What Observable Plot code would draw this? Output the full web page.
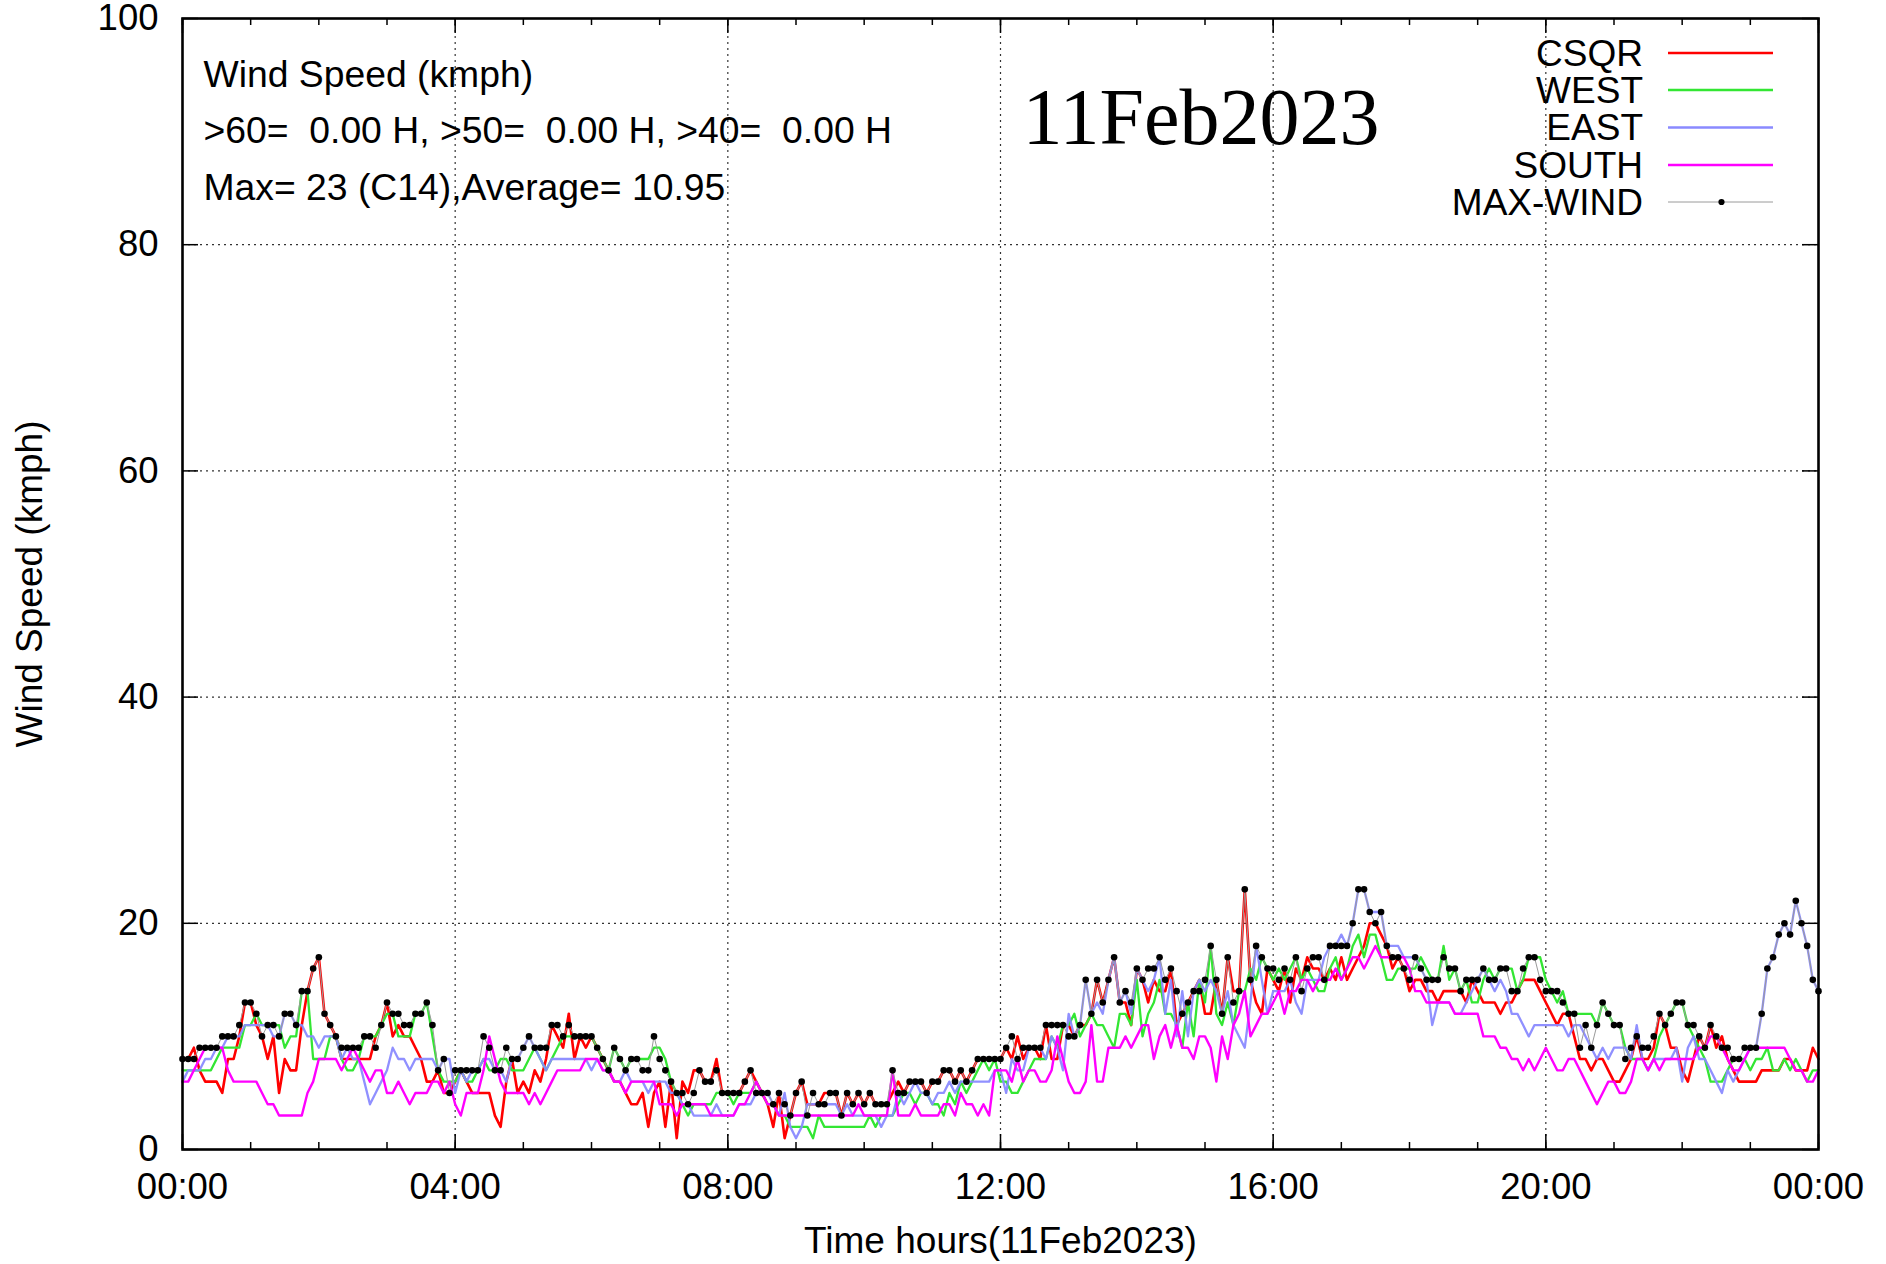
<!DOCTYPE html>
<html>
<head>
<meta charset="utf-8">
<script src="https://cdn.jsdelivr.net/npm/d3@7"></script>
<script src="https://cdn.jsdelivr.net/npm/@observablehq/plot@0.6"></script>
<style>
html, body { margin: 0; padding: 0; background: #ffffff; overflow: hidden; }
svg text { white-space: pre; }
</style>
</head>
<body>
<div id="chart"></div>
<script>
// ---- data (kmph, one reading every 5 minutes from 00:00 to 24:00) ----
const stepMinutes = 5;

const csqr = [
  8,8,9,7,6,6,6,5,8,8,10,13,13,11,10,8,10,5,8,7,7,11,14,16,17,12,11,10,8,8,8,8,8,8,10,11,13,
  10,11,10,10,9,8,6,6,7,5,5,6,7,6,5,5,5,5,3,2,6,8,5,6,5,7,6,8,11,10,9,12,8,10,9,10,
  9,8,7,6,6,5,4,4,5,2,5,6,2,6,1,6,5,7,7,6,6,8,5,5,5,5,6,7,6,5,4,2,5,1,3,5,
  6,4,4,4,5,5,5,3,5,4,5,4,5,4,4,4,5,6,5,6,6,6,5,6,6,7,7,6,7,6,7,8,8,8,8,8,
  9,8,10,8,9,9,8,11,8,8,11,11,10,11,11,12,15,13,15,17,13,13,11,16,15,13,15,14,14,16,11,12,13,14,15,12,
  12,15,12,17,14,14,23,15,13,12,16,15,14,16,13,16,15,17,16,16,15,16,15,17,15,16,17,18,20,20,19,18,16,17,16,14,
  15,15,14,14,13,14,14,14,14,13,15,14,13,13,13,12,13,13,14,15,15,15,14,13,12,11,12,12,10,8,8,7,8,8,7,6,
  6,7,8,10,8,8,9,12,11,9,9,7,6,8,10,9,11,9,10,8,7,6,6,6,6,7,7,7,7,8,8,7,7,7,9,8
];

const west = [
  7,7,7,7,7,7,8,9,9,9,9,11,11,12,11,11,11,11,9,10,10,14,14,8,8,8,10,10,8,7,7,8,10,10,10,11,12,
  12,10,10,10,12,12,13,10,7,6,6,6,7,6,6,7,8,7,7,8,8,7,7,7,8,9,8,7,8,9,10,10,10,10,10,10,
  9,8,7,9,8,7,8,8,8,8,9,9,8,6,5,4,3,4,4,4,4,5,5,5,4,5,5,5,6,5,4,4,3,3,2,2,
  2,2,1,3,2,2,2,2,2,2,2,2,3,2,3,3,3,4,5,5,4,5,5,4,4,3,5,4,6,5,6,7,8,7,8,6,
  6,5,5,6,7,8,8,8,10,9,11,11,12,10,11,12,11,11,10,9,12,12,11,15,10,12,13,15,12,12,11,9,13,10,15,13,
  18,12,11,13,11,14,14,16,15,17,16,15,16,15,16,17,15,16,15,14,14,16,17,15,16,18,19,17,19,19,17,15,15,16,16,16,
  16,17,16,15,15,18,15,16,14,15,13,13,15,16,15,16,16,16,14,15,17,17,17,15,14,13,14,12,12,12,12,12,11,13,12,11,
  11,9,8,8,8,7,8,10,11,12,13,13,11,10,9,8,6,6,6,7,8,8,8,7,8,8,9,7,7,8,7,8,7,6,7,7
];

const east = [
  6,7,7,7,8,8,9,9,10,10,10,11,11,11,11,11,10,10,12,12,11,11,10,10,9,10,10,10,8,9,8,8,6,4,5,6,7,
  9,8,8,7,8,8,8,8,7,8,8,5,7,6,7,7,8,8,7,7,6,8,8,9,10,9,8,7,8,8,8,8,8,8,8,7,
  8,7,7,6,6,7,6,6,6,5,6,6,6,5,5,4,4,3,3,3,3,4,3,3,3,4,4,4,5,5,5,4,3,5,2,1,
  2,4,4,4,4,4,4,3,4,3,3,3,3,3,2,3,3,5,4,5,6,5,5,4,5,5,6,5,6,6,6,6,6,6,7,7,
  5,8,7,7,9,9,9,8,10,9,7,12,10,11,15,12,13,12,15,17,13,14,12,16,15,14,15,17,12,15,10,14,10,14,15,14,
  15,14,12,14,11,10,9,13,18,15,12,14,14,14,15,13,12,15,15,15,17,18,18,19,18,20,23,23,21,21,21,18,18,18,17,17,
  17,16,15,11,13,13,13,12,12,13,14,15,16,15,14,15,14,12,12,11,10,11,11,11,11,11,11,10,11,11,10,9,8,9,8,9,
  9,9,8,11,8,7,8,8,8,8,9,6,9,10,8,8,7,6,5,7,6,7,8,9,9,12,16,17,19,20,19,22,20,18,15,14
];

const south = [
  6,6,7,8,9,9,9,9,7,6,6,6,6,6,5,4,4,3,3,3,3,3,5,6,8,8,8,8,7,8,9,8,7,6,7,7,5,
  5,6,5,4,5,5,5,6,6,5,6,4,3,5,5,5,7,10,8,6,5,5,5,5,4,5,4,5,6,7,7,7,7,7,8,8,
  8,7,7,6,6,5,6,6,6,6,6,4,4,4,3,4,4,4,4,4,3,3,3,3,3,4,4,5,6,5,4,4,3,3,3,3,
  3,3,3,3,3,3,3,3,3,3,4,3,3,3,3,3,7,3,3,3,4,3,3,3,3,4,4,3,5,4,4,3,4,3,7,7,
  7,6,8,6,7,7,6,6,7,10,8,6,5,5,6,11,6,6,9,9,9,10,9,10,11,11,8,10,11,9,11,9,9,8,10,10,
  9,6,10,8,11,12,14,10,11,12,12,13,14,12,14,14,15,15,14,15,15,15,16,15,16,17,17,16,17,18,17,17,17,17,17,16,
  14,14,13,13,13,13,13,12,12,12,12,12,10,10,10,9,9,8,8,7,8,7,8,9,8,7,7,8,8,7,6,5,4,5,6,6,
  5,5,6,8,8,7,8,7,8,8,8,8,8,8,9,9,10,10,9,8,7,7,8,9,9,9,9,9,9,9,8,7,7,6,6,7
];

const maxWind = [
  8,8,8,9,9,9,9,10,10,10,11,13,13,12,10,11,11,10,12,12,11,14,14,16,17,12,11,10,9,9,9,9,10,10,9,11,13,
  12,12,11,11,12,12,13,11,7,8,5,7,7,7,7,7,10,9,7,7,9,8,8,9,10,9,9,9,11,11,10,11,10,10,10,10,
  9,8,7,9,8,7,8,8,7,7,10,8,7,6,5,5,4,5,7,6,6,7,5,5,5,5,6,7,5,5,5,4,5,4,3,5,
  6,3,5,4,4,5,5,3,5,4,5,4,5,4,4,4,7,5,5,6,6,6,5,6,6,7,7,6,7,6,7,8,8,8,8,8,
  9,10,8,9,9,9,9,11,11,11,11,10,10,11,15,12,15,13,15,17,13,14,13,16,15,16,16,17,15,16,14,12,13,14,14,15,
  18,15,12,17,13,14,23,15,18,17,16,16,15,16,15,17,14,16,17,17,15,18,18,18,18,20,23,23,21,20,21,18,17,17,16,15,
  17,16,15,15,15,17,16,16,14,15,15,15,16,15,15,16,16,14,14,16,17,17,15,14,14,14,13,12,12,9,11,9,11,13,12,11,
  11,8,9,10,9,9,10,12,11,12,13,13,11,11,10,9,11,10,9,9,8,8,9,9,9,12,16,17,19,20,19,22,20,18,15,14
];

const seriesNames = ["CSQR", "WEST", "EAST", "SOUTH", "MAX-WIND"];
const seriesColors = ["#ff0000", "#33e633", "#8a8aff", "#ff00ff", "#000000"];

const yTicks = [0, 20, 40, 60, 80, 100];
const yGrid = [20, 40, 60, 80];
const xTickHours = [0, 4, 8, 12, 16, 20, 24];
const xTickLabels = ["00:00", "04:00", "08:00", "12:00", "16:00", "20:00", "00:00"];
const xGrid = [4, 8, 12, 16, 20];
const xMinorHours = d3.range(0, 25);

const infoLines = [
  "Wind Speed (kmph)",
  ">60=  0.00 H, >50=  0.00 H, >40=  0.00 H",
  "Max= 23 (C14),Average= 10.95"
];
const dateTitle = "11Feb2023";
const xLabel = "Time hours(11Feb2023)";
const yLabel = "Wind Speed (kmph)";

// ---- layout ----
const W = 1886, H = 1264;
const mL = 182, mR = 68, mT = 18, mB = 115;
const frameW = W - mL - mR, frameH = H - mT - mB;
const fontSans = "'Liberation Sans', Arial, Helvetica, sans-serif";
const infoOffsets = [57, 113, 170];

const toRows = (values) => values.map((v, i) => ({t: i * stepMinutes / 60, v}));
const seriesData = [csqr, west, east, south, maxWind].map(toRows);

const lineStyles = [
  {stroke: seriesColors[0], strokeWidth: 2.6},
  {stroke: seriesColors[1], strokeWidth: 2.3},
  {stroke: seriesColors[2], strokeWidth: 2.3, strokeOpacity: 0.95},
  {stroke: seriesColors[3], strokeWidth: 2.4}
];

const chart = Plot.plot({
  width: W, height: H,
  marginLeft: mL, marginRight: mR, marginTop: mT, marginBottom: mB,
  x: {domain: [0, 24], axis: null},
  y: {domain: [0, 100], axis: null},
  style: {fontFamily: fontSans, background: "#ffffff", color: "#000", overflow: "visible"},
  marks: [
    // dotted grid
    Plot.ruleY(yGrid, {stroke: "#333", strokeWidth: 1.2, strokeDasharray: "2,4"}),
    Plot.ruleX(xGrid, {stroke: "#333", strokeWidth: 1.2, strokeDasharray: "2,4"}),
    // series
    ...lineStyles.map((s, k) => Plot.line(seriesData[k], {x: "t", y: "v", ...s})),
    Plot.line(seriesData[4], {x: "t", y: "v", stroke: "#9a9a9a", strokeWidth: 1}),
    Plot.dot(seriesData[4], {x: "t", y: "v", r: 3.3, fill: "#000", stroke: "none"}),
    // inward ticks
    Plot.ruleX(xMinorHours, {stroke: "#000", strokeWidth: 1.5, insetTop: frameH - 7}),
    Plot.ruleX(xMinorHours, {stroke: "#000", strokeWidth: 1.5, insetBottom: frameH - 7}),
    Plot.ruleX(xTickHours, {stroke: "#000", strokeWidth: 1.5, insetTop: frameH - 15}),
    Plot.ruleX(xTickHours, {stroke: "#000", strokeWidth: 1.5, insetBottom: frameH - 15}),
    Plot.ruleY(yTicks, {stroke: "#000", strokeWidth: 1.5, insetRight: frameW - 16}),
    Plot.ruleY(yTicks, {stroke: "#000", strokeWidth: 1.5, insetLeft: frameW - 16}),
    Plot.frame({stroke: "#000", strokeWidth: 2.6}),
    // tick labels
    Plot.text(yTicks, {frameAnchor: "left", y: d => d, text: d => String(d), textAnchor: "end",
      dx: -24, fontSize: 36.5, lineAnchor: "middle", fill: "#000"}),
    Plot.text(xTickHours, {frameAnchor: "bottom", x: d => d, text: (d, i) => xTickLabels[i],
      dy: 38, fontSize: 36.5, lineAnchor: "middle", fill: "#000"}),
    // axis titles
    Plot.text([xLabel], {frameAnchor: "bottom", text: d => d, dy: 92, fontSize: 37, lineAnchor: "middle", fill: "#000"}),
    Plot.text([yLabel], {frameAnchor: "left", text: d => d, dx: -152, rotate: -90, fontSize: 37,
      textAnchor: "middle", lineAnchor: "middle", fill: "#000"}),
    // info block, one text mark per line
    ...infoLines.map((line, i) => Plot.text([line], {frameAnchor: "top-left", text: d => d,
      dx: 21, dy: infoOffsets[i], fontSize: 37.3, textAnchor: "start", lineAnchor: "middle", fill: "#000"})),
    // date title
    Plot.text([dateTitle], {frameAnchor: "top-left", text: d => d, dx: 840, dy: 100,
      fontSize: 80, fontFamily: "'Liberation Serif', 'Times New Roman', serif",
      textAnchor: "start", lineAnchor: "middle", fill: "#000"})
  ]
});

document.getElementById("chart").appendChild(chart);

// ---- legend ----
const svg = d3.select(chart);
const legendTextRight = 1643, legendLineX1 = 1668, legendLineX2 = 1773;
const legendRowY = [53, 90, 127.5, 165, 202];
const lg = svg.append("g").attr("font-family", fontSans).attr("font-size", 37);
seriesNames.forEach((name, i) => {
  const y = legendRowY[i];
  lg.append("text").attr("x", legendTextRight).attr("y", y).attr("dy", "0.35em")
    .attr("text-anchor", "end").attr("fill", "#000").text(name);
  if (i < 4) {
    lg.append("line").attr("x1", legendLineX1).attr("x2", legendLineX2).attr("y1", y).attr("y2", y)
      .attr("stroke", seriesColors[i]).attr("stroke-width", 2.6);
  } else {
    lg.append("line").attr("x1", legendLineX1).attr("x2", legendLineX2).attr("y1", y).attr("y2", y)
      .attr("stroke", "#9a9a9a").attr("stroke-width", 1);
    lg.append("circle").attr("cx", (legendLineX1 + legendLineX2) / 2 + 1).attr("cy", y).attr("r", 3.1).attr("fill", "#000");
  }
});
</script>
</body>
</html>
